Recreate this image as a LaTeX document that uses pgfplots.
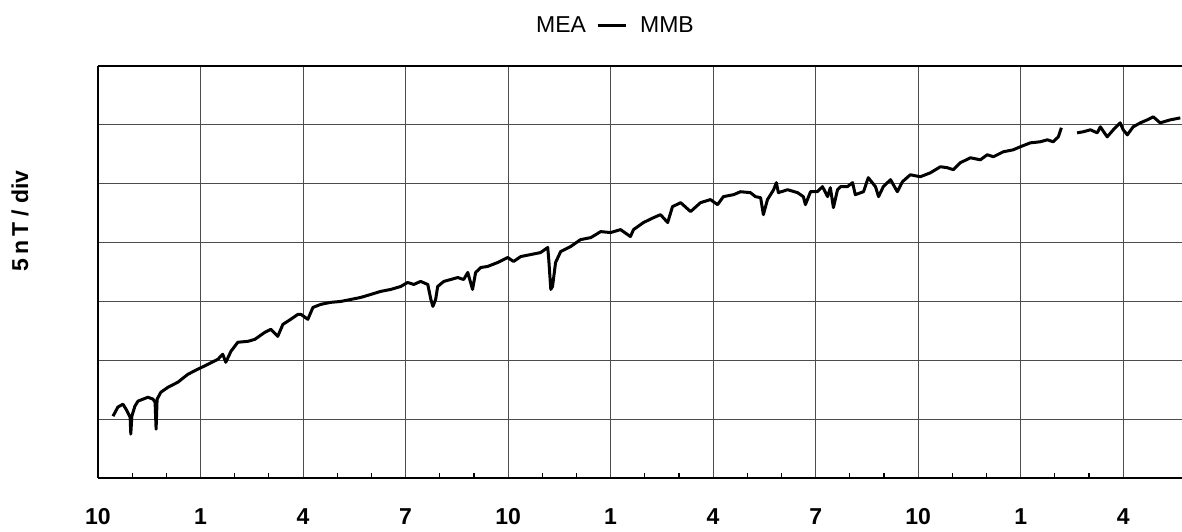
\documentclass[border=0pt]{standalone}
\usepackage{fontspec}
\setmainfont{Liberation Sans}
\usepackage{pgfplots}
\pgfplotsset{compat=1.18}

% months since Oct (x) and nT (y)
\pgfplotstableread{
x y
0.44 5.25
0.58 6.02
0.73 6.27
0.82 5.85
0.94 5.17
0.96 3.73
0.99 5.25
1.08 6.10
1.17 6.53
1.32 6.70
1.46 6.86
1.61 6.70
1.67 6.44
1.70 4.15
1.73 6.70
1.84 7.29
2.05 7.71
2.34 8.14
2.63 8.81
2.92 9.24
3.22 9.66
3.51 10.09
3.65 10.51
3.74 9.83
3.89 10.76
4.09 11.53
4.39 11.61
4.59 11.78
4.88 12.37
5.06 12.63
5.26 12.03
5.41 13.05
5.64 13.48
5.85 13.90
5.94 13.90
6.14 13.48
6.29 14.49
6.52 14.75
6.81 14.92
7.11 15.00
7.40 15.17
7.69 15.34
7.98 15.59
8.27 15.85
8.57 16.02
8.86 16.27
9.06 16.61
9.24 16.44
9.44 16.70
9.65 16.44
9.74 15.17
9.80 14.58
9.88 15.17
9.94 16.27
10.12 16.70
10.32 16.86
10.53 17.03
10.70 16.86
10.82 17.46
10.96 16.02
11.05 17.46
11.20 17.88
11.40 17.97
11.70 18.31
11.99 18.73
12.16 18.39
12.37 18.81
12.66 18.98
12.95 19.15
13.16 19.58
13.19 18.56
13.25 16.02
13.30 16.27
13.39 18.31
13.54 19.24
13.83 19.66
14.12 20.25
14.42 20.42
14.71 20.93
15.00 20.85
15.29 21.10
15.58 20.51
15.67 21.10
15.96 21.70
16.26 22.12
16.46 22.37
16.67 21.70
16.81 23.05
17.05 23.39
17.34 22.63
17.63 23.39
17.92 23.65
18.13 23.22
18.30 23.90
18.60 24.07
18.80 24.32
19.09 24.24
19.24 23.90
19.39 23.81
19.47 22.37
19.59 23.65
19.77 24.49
19.85 25.09
19.91 24.24
20.18 24.49
20.47 24.24
20.64 23.90
20.70 23.22
20.85 24.32
21.05 24.32
21.20 24.75
21.35 23.90
21.43 24.66
21.52 22.97
21.64 24.49
21.73 24.75
21.93 24.75
22.08 25.09
22.16 24.07
22.40 24.32
22.54 25.51
22.75 24.75
22.84 23.90
22.98 24.75
23.19 25.34
23.39 24.32
23.54 25.17
23.77 25.76
24.06 25.59
24.36 25.93
24.65 26.44
24.85 26.36
25.03 26.19
25.23 26.78
25.53 27.20
25.82 27.03
26.02 27.46
26.20 27.29
26.49 27.71
26.78 27.88
26.99 28.14
27.28 28.47
27.57 28.56
27.78 28.73
27.95 28.56
28.10 28.98
28.19 29.75
28.40 nan
28.65 29.32
28.83 29.41
29.04 29.58
29.24 29.32
29.33 29.83
29.53 28.98
29.71 29.58
29.91 30.17
30.00 29.58
30.12 29.15
30.29 29.83
30.50 30.17
30.70 30.42
30.88 30.68
31.08 30.17
31.37 30.42
31.67 30.59
}\meammb

\begin{document}
\begin{tikzpicture}
\begin{axis}[
    name=ax,
    scale only axis,
    width=542pt, height=206pt,
    xmin=0, xmax=31.72,
    ymin=0, ymax=35,
    axis x line*=box,
    axis y line*=left,
    axis line style={line width=1pt, -},
    every outer x axis line/.append style={-},
    every outer y axis line/.append style={-},
    xtick={0,3,...,30},
    xticklabels={10,1,4,7,10,1,4,7,10,1,4},
    minor x tick num=2,
    xtick pos=left,
    major tick length=0pt,
    minor tick length=2.5pt,
    tick style={black, line width=0.6pt},
    ytick={0,5,...,35},
    yticklabels={},
    ytick style={draw=none},
    xmajorgrids, ymajorgrids,
    grid style={black!70, line width=0.5pt},
    typeset ticklabels with strut,
    xticklabel style={font=\fontsize{11.5}{12}\selectfont\bfseries, yshift=-11.5pt},
    unbounded coords=jump,
    clip=false,
]
\addplot[black, line width=1.5pt, line join=round] table[x=x, y=y] {\meammb};
\end{axis}
\node[anchor=base] at ([shift={(258.5pt,222.5pt)}]ax.south west)
    {\fontsize{11.5}{12}\selectfont MEA\hspace{0.5em}\rule[0.27em]{1.25em}{0.14em}\hspace{0.6em}MMB};
\node[rotate=90] at ([shift={(-39pt,128.5pt)}]ax.south west)
    {\fontsize{11.5}{12}\selectfont\bfseries 5\,n\,T / div};
\pgfresetboundingbox
\path ([shift={(-49pt,-27pt)}]ax.south west) rectangle ([shift={(0pt,33pt)}]ax.north east);
\end{tikzpicture}
\end{document}
